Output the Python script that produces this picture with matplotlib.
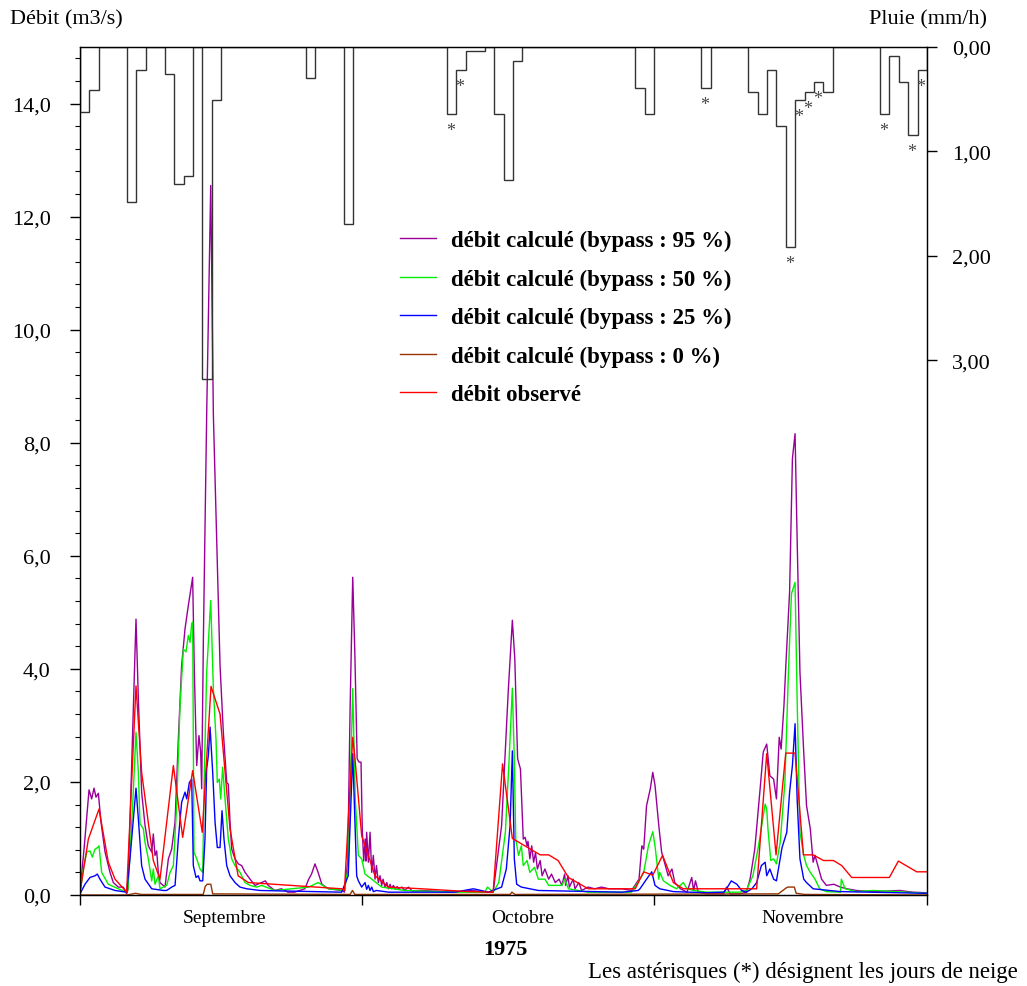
import numpy as np
import matplotlib
matplotlib.use("Agg")
import matplotlib.pyplot as plt
from matplotlib.lines import Line2D
from matplotlib.ticker import FixedLocator, FuncFormatter

plt.rcParams['font.family'] = ['Liberation Serif', 'DejaVu Serif']

# ---------------- data (days since 1 Sept 1975) ----------------
# daily rainfall intensity (mm/h), 1 Sept .. 29 Nov
rain_mm = [0.62, 0.41, 0, 0, 0, 1.48, 0.22, 0, 0, 0.26,
           1.31, 1.23, 0, 3.18, 0.51, 0, 0, 0, 0, 0,
           0, 0, 0, 0, 0.30, 0, 0, 0, 1.69, 0,
           0, 0, 0, 0, 0, 0, 0, 0, 0, 0.645,
           0.22, 0.04, 0.04, 0, 0.645, 1.27, 0.13, 0, 0, 0,
           0, 0, 0, 0, 0, 0, 0, 0, 0, 0.39,
           0.645, 0, 0, 0, 0, 0, 0.39, 0, 0, 0,
           0, 0.43, 0.645, 0.22, 0.76, 1.91, 0.51, 0.435, 0.335, 0.43,
           0, 0, 0, 0, 0, 0.645, 0.09, 0.335, 0.84, 0.22]
snow_days = [39, 40, 66, 75, 76, 77, 78, 85, 88, 89]

q95_t = [0.0, 0.46, 0.96, 1.24, 1.49, 1.70, 1.95, 2.23, 2.66, 3.19, 3.54, 4.07, 4.6, 4.96,
         5.1, 5.6, 5.95, 6.2, 6.55, 6.91, 7.26, 7.62, 7.79, 7.97, 8.15, 8.32, 8.5,
         9.03, 9.39, 9.74, 10.1, 10.45, 10.8, 11.16, 11.51, 11.97, 12.15, 12.4, 12.64, 12.82, 12.93,
         13.11, 13.46, 13.89, 14.17, 14.52, 14.88, 15.23, 15.59, 15.76, 15.94, 16.12, 16.47, 16.83,
         17.18, 17.54, 18.07, 18.6, 19.3, 19.7, 20.0, 20.7, 21.4, 22.1, 22.8, 23.9, 24.3, 24.6,
         24.97, 25.3, 25.7, 26.4, 27.8, 28.1, 28.45, 28.7, 28.98, 29.2, 29.45, 29.65, 29.86, 30.0,
         30.15, 30.3, 30.38, 30.46, 30.64, 30.82, 31.0, 31.17, 31.35, 31.5, 31.7, 31.88, 32.06,
         32.2, 32.4, 32.6, 32.77, 32.95, 33.1, 33.3, 33.5, 33.7, 33.8, 34.2, 34.5, 34.9, 35.3,
         36.3, 39.8, 41.6, 43.4, 43.9, 44.8, 45.5, 45.94, 46.2, 46.5, 46.8, 47.1, 47.3,
         47.5, 47.6, 47.8, 48.0, 48.2, 48.4, 48.6, 48.9, 49.1, 49.4, 49.8, 50.1, 50.5, 50.9,
         51.2, 51.5, 51.6, 51.85, 52.0, 52.4, 52.6, 53.0, 53.3, 54.0, 54.7, 55.4, 56.2, 57.6,
         58.6, 59.4, 59.7, 59.9, 60.2, 60.6, 60.86, 61.1, 61.5, 61.8, 62.2, 62.5, 62.9, 63.2, 63.8,
         64.5, 65.0, 65.2, 65.4, 65.7, 66.6, 68.4, 68.7, 69.1, 70.1, 70.8, 71.2, 71.7, 72.3,
         72.6, 72.97, 73.3, 73.7, 74.0, 74.3, 74.5, 74.8, 75.0, 75.4, 75.7, 75.98, 76.2, 76.5,
         76.9, 77.2, 77.6, 77.9, 78.1, 78.5, 78.8, 79.3, 80.1, 80.8, 81.5, 82.5, 84.3, 87.1,
         88.5, 89.9]
q95_v = [0.05, 0.87, 1.86, 1.70, 1.89, 1.73, 1.80, 1.29, 0.76, 0.40, 0.22, 0.14, 0.14, 0.02,
         0.10, 2.9, 4.88, 3.47, 1.82, 1.23, 0.87, 0.76, 1.08, 0.70, 0.78, 0.40, 0.22,
         0.14, 0.64, 0.81, 1.29, 2.76, 4.06, 4.71, 5.12, 5.62, 3.94, 2.29, 2.82, 2.53, 1.88,
         4.53, 8.5, 12.55, 8.5, 6.3, 4.06, 2.88, 1.99, 1.96, 1.29, 0.81, 0.64, 0.55,
         0.52, 0.40, 0.28, 0.17, 0.22, 0.25, 0.17, 0.08, 0.11, 0.05, 0.05, 0.11, 0.28, 0.37,
         0.55, 0.40, 0.19, 0.11, 0.08, 0.05, 0.6, 3.3, 5.62, 4.3, 2.41, 2.35, 2.35, 1.11,
         0.6, 0.99, 0.6, 1.11, 0.58, 1.11, 0.40, 0.70, 0.28, 0.52, 0.22, 0.34, 0.17,
         0.28, 0.14, 0.22, 0.11, 0.19, 0.11, 0.17, 0.11, 0.15, 0.11, 0.14, 0.08, 0.14, 0.07,
         0.08, 0.05, 0.08, 0.05, 0.05, 1.23, 3.59, 4.86, 4.18, 2.41, 2.23, 0.99, 1.02,
         0.87, 0.95, 0.64, 0.87, 0.58, 0.75, 0.46, 0.61, 0.34, 0.46, 0.28, 0.37, 0.22, 0.28,
         0.17, 0.37, 0.17, 0.34, 0.14, 0.28, 0.11, 0.22, 0.08, 0.14, 0.11, 0.14, 0.11, 0.11,
         0.08, 0.28, 0.87, 0.81, 1.58, 1.88, 2.17, 1.94, 1.23, 0.76, 0.52, 0.34, 0.46, 0.22, 0.11,
         0.05, 0.31, 0.08, 0.25, 0.05, 0.02, 0.02, 0.14, 0.02, 0.02, 0.05, 0.28, 0.81, 1.94,
         2.53, 2.67, 2.11, 2.05, 1.70, 2.79, 2.58, 3.35, 4.06, 5.36, 7.72, 8.16, 6.30, 3.94,
         2.53, 1.58, 1.17, 0.58, 0.70, 0.46, 0.28, 0.17, 0.19, 0.14, 0.11, 0.08, 0.06, 0.08,
         0.05, 0.04]

q50_t = [0.0, 0.35, 0.71, 1.06, 1.31, 1.59, 1.88, 2.02, 2.3, 3.01, 4.07, 4.96,
         5.1, 5.6, 5.95, 6.2, 6.38, 6.73, 6.91, 7.26, 7.62, 7.79, 7.97, 8.32, 8.5,
         9.21, 9.57, 9.92, 10.27, 10.63, 10.98, 11.26, 11.51, 11.69, 11.87, 11.97, 12.11, 12.4,
         12.75, 13.04, 13.21, 13.46, 13.89, 14.17, 14.45, 14.59, 14.8, 14.95, 15.16, 15.41,
         15.76, 16.12, 16.47, 17.0, 17.54, 18.07, 18.77, 19.3, 20.7, 24.3, 25.3, 26.4, 28.1,
         28.5, 28.98, 29.25, 29.58, 29.93, 30.29, 31.0, 32.06, 34.5, 39.8, 43.0, 43.3, 43.9,
         44.5, 45.2, 45.6, 45.94, 46.15, 46.3, 46.6, 46.9, 47.1, 47.5, 47.8, 48.3, 48.7, 49.4,
         49.8, 51.2, 51.5, 51.9, 54.0, 58.6, 59.5, 59.9, 60.4, 60.86, 61.1, 61.5, 61.6, 62.0,
         62.7, 63.4, 64.1, 64.5, 65.2, 66.6, 70.1, 70.8, 71.5, 72.1, 72.6, 72.8, 72.97, 73.1,
         73.4, 73.7, 74.0, 74.4, 74.9, 75.3, 75.6, 75.98, 76.2, 76.5, 76.9, 77.2, 77.6, 78.1,
         78.6, 79.3, 80.8, 80.9, 81.3, 82.5, 84.3, 87.8, 89.9]
q50_v = [0.02, 0.46, 0.76, 0.78, 0.67, 0.81, 0.84, 0.87, 0.40, 0.19, 0.11, 0.05,
         0.10, 1.6, 2.88, 2.17, 1.26, 1.17, 0.93, 0.64, 0.25, 0.46, 0.19, 0.34, 0.11,
         0.17, 0.40, 0.52, 1.58, 3.35, 4.35, 4.30, 4.59, 4.47, 4.80, 4.83, 0.76, 0.64,
         0.46, 0.40, 2.17, 3.94, 5.21, 3.65, 2.76, 1.99, 2.05, 1.70, 2.26, 1.70,
         0.99, 0.64, 0.52, 0.40, 0.22, 0.17, 0.14, 0.17, 0.08, 0.14, 0.22, 0.11, 0.08,
         0.5, 3.65, 1.7, 0.70, 0.64, 0.37, 0.28, 0.14, 0.08, 0.05, 0.05, 0.14, 0.05,
         0.22, 1.11, 2.41, 3.66, 2.41, 0.99, 0.70, 0.87, 0.52, 0.61, 0.40, 0.49, 0.28, 0.28,
         0.17, 0.17, 0.28, 0.11, 0.05, 0.05, 0.28, 0.40, 0.87, 1.12, 0.87, 0.28, 0.40, 0.25,
         0.17, 0.11, 0.22, 0.11, 0.08, 0.05, 0.05, 0.08, 0.34, 0.87, 1.40, 1.61, 1.52, 1.17,
         0.61, 0.64, 0.55, 0.93, 1.99, 4.06, 5.33, 5.53, 3.47, 1.11, 0.70, 0.52, 0.40, 0.28,
         0.11, 0.06, 0.05, 0.28, 0.11, 0.06, 0.08, 0.05, 0.03]

q25_t = [0.0, 0.53, 1.06, 1.59, 1.84, 2.12, 2.66, 3.72, 4.96, 5.31, 5.95, 6.2, 6.55, 6.91,
         7.62, 8.86, 9.21, 9.74, 10.1, 10.45, 10.8, 11.16, 11.34, 11.62, 11.87, 12.04, 12.33,
         12.57, 12.75, 13.04, 13.28, 13.46, 13.64, 13.82, 14.1, 14.35, 14.59, 14.88, 15.09,
         15.3, 15.59, 15.94, 16.47, 17.0, 17.71, 19.13, 27.8, 28.5, 28.98, 29.4, 29.58, 29.93,
         30.29, 30.46, 30.64, 30.82, 31.0, 31.17, 31.5, 32.8, 39.8, 41.8, 43.4, 44.8, 45.3,
         45.7, 45.94, 46.15, 46.4, 46.9, 48.7, 57.6, 59.3, 59.5, 60.2, 60.75, 61.1, 61.6, 63.05,
         66.6, 68.4, 68.7, 69.2, 69.8, 70.3, 70.8, 71.4, 71.9, 72.4, 72.8, 72.97, 73.3, 73.7,
         74.0, 74.6, 75.1, 75.4, 75.7, 75.98, 76.2, 76.5, 76.9, 77.2, 77.9, 80.8, 89.9]
q25_v = [0.02, 0.19, 0.31, 0.34, 0.37, 0.28, 0.14, 0.08, 0.05, 0.64, 1.89, 1.35, 0.52, 0.28,
         0.11, 0.08, 0.08, 0.14, 0.17, 0.99, 1.64, 1.82, 1.70, 1.99, 2.05, 0.52, 0.31,
         0.34, 0.25, 0.25, 0.99, 2.23, 2.47, 2.97, 2.17, 1.29, 0.84, 0.84, 1.49,
         0.99, 0.52, 0.34, 0.22, 0.14, 0.11, 0.08, 0.05, 0.34, 2.50, 0.34, 0.25, 0.14,
         0.22, 0.10, 0.17, 0.08, 0.14, 0.06, 0.08, 0.05, 0.05, 0.11, 0.05, 0.14, 0.46,
         1.23, 2.55, 0.64, 0.19, 0.14, 0.08, 0.05, 0.08, 0.11, 0.28, 0.41, 0.17, 0.11, 0.06,
         0.04, 0.05, 0.11, 0.25, 0.19, 0.08, 0.05, 0.11, 0.22, 0.52, 0.58, 0.34, 0.46, 0.28,
         0.25, 0.84, 1.11, 1.82, 2.29, 3.03, 1.70, 0.64, 0.28, 0.22, 0.11, 0.06, 0.03]

q0_t = [0.0, 5.0, 5.9, 6.5, 13.1, 13.3, 13.5, 13.9, 14.1, 28.7, 28.95, 29.2, 45.7, 45.9,
        46.2, 74.2, 75.0, 75.2, 75.9, 76.1, 77.0, 90.0]
q0_v = [0.0, 0.0, 0.03, 0.01, 0.01, 0.15, 0.19, 0.19, 0.02, 0.01, 0.08, 0.01, 0.01, 0.05,
        0.01, 0.02, 0.12, 0.14, 0.14, 0.03, 0.01, 0.0]

obs_t = [0.0, 0.89, 2.02, 3.01, 3.72, 4.96, 5.95, 6.55, 7.79, 8.5, 9.92, 10.91, 11.97,
         12.99, 13.92, 14.88, 15.94, 16.8, 17.9, 27.8, 28.1, 28.98, 29.22, 29.93, 31.35,
         32.77, 36.3, 41.3, 43.9, 44.9, 45.94, 48.9, 49.8, 50.8, 51.9, 54.0, 59.0, 59.5,
         59.9, 60.86, 61.9, 63.05, 64.1, 71.9, 72.97, 73.96, 74.99, 75.98, 76.87, 77.9,
         79.0, 80.06, 80.94, 82.0, 86.0, 86.96, 88.9, 90.0]
obs_v = [0.05, 0.99, 1.52, 0.58, 0.28, 0.05, 3.70, 2.17, 0.61, 0.28, 2.29, 1.02, 2.20,
         1.11, 3.69, 3.20, 1.17, 0.34, 0.22, 0.11, 0.08, 2.79, 2.41, 1.05, 0.34,
         0.14, 0.11, 0.06, 0.05, 2.32, 1.00, 0.71, 0.71, 0.61, 0.31, 0.11, 0.11, 0.28,
         0.41, 0.35, 0.70, 0.22, 0.11, 0.11, 2.50, 0.71, 2.51, 2.51, 0.71, 0.71,
         0.61, 0.61, 0.52, 0.31, 0.31, 0.60, 0.41, 0.41]

series = [
    ("débit calculé (bypass : 95 %)", q95_t, q95_v, "#990099"),
    ("débit calculé (bypass : 50 %)", q50_t, q50_v, "#00ee00"),
    ("débit calculé (bypass : 25 %)", q25_t, q25_v, "#0000ff"),
    ("débit calculé (bypass : 0 %)", q0_t, q0_v, "#993300"),
    ("débit observé", obs_t, obs_v, "#ff0000"),
]
month_bounds = [0, 30, 61, 90]
month_names = ["Septembre", "Octobre", "Novembre"]
month_label_pos = [15.4, 47.0, 76.8]

# ---------------- figure ----------------
W, H = 1027, 987
fig = plt.figure(figsize=(W / 100, H / 100), dpi=100)
ax = fig.add_axes([80 / W, (H - 896) / H, 847 / W, 848 / H])
ax.set_xlim(0, 90)
ax.set_ylim(0, 15)

for label, t, v, c in series:
    ax.plot(t, v, color=c, lw=1.0, label=label)

ax.yaxis.set_major_locator(FixedLocator(np.arange(0, 15, 2)))
ax.yaxis.set_minor_locator(FixedLocator(np.arange(0, 15.01, 0.4)))
ax.yaxis.set_major_formatter(FuncFormatter(lambda v, p: f"{v:.1f}".replace('.', ',')))
ax.tick_params(axis='y', which='major', direction='out', length=7, width=1, pad=14, labelsize=16)
ax.tick_params(axis='y', which='minor', direction='out', length=3.5, width=0.8)

ax.set_xticks(month_bounds)
ax.set_xticklabels([])
ax.set_xticks(month_label_pos, minor=True)
ax.set_xticklabels(month_names, minor=True)
ax.tick_params(axis='x', which='major', direction='out', length=7, width=1)
ax.tick_params(axis='x', which='minor', length=0, pad=10, labelsize=14)

for s in ax.spines.values():
    s.set_linewidth(1.0)
    s.set_color('#222222')

# rainfall on inverted right axis
ax2 = ax.twinx()
ax2.set_ylim(8.115, 0)
ax2.stairs(rain_mm, np.arange(len(rain_mm) + 1), baseline=0, color='#333333', lw=1.0)
ax2.yaxis.set_major_locator(FixedLocator([0, 1, 2, 3]))
ax2.yaxis.set_major_formatter(FuncFormatter(lambda v, p: f"{v:.2f}".replace('.', ',')))
ax2.tick_params(axis='y', which='major', direction='out', length=7, width=1, pad=11, labelsize=16)
for d in snow_days:
    ax2.annotate('*', xy=(d + 0.35, rain_mm[d]), xytext=(0, -21), textcoords='offset pixels',
                 ha='center', va='baseline', fontsize=13, color='#444444')

# legend
handles = [Line2D([0], [0], color=c, lw=1.0) for _, _, _, c in series]
labels = [s[0] for s in series]
leg = fig.legend(handles, labels, loc='upper left', bbox_to_anchor=(400 / W, 1 - 231 / H),
                 frameon=False, prop={'weight': 'bold', 'size': 16.5}, handlelength=1.55,
                 handletextpad=0.68, labelspacing=0.76, borderpad=0, borderaxespad=0)

fig.text(10 / W, 1 - 20 / H, "Débit (m3/s)", ha='left', va='center', fontsize=16)
fig.text(987 / W, 1 - 20 / H, "Pluie (mm/h)", ha='right', va='center', fontsize=16)
fig.text(505 / W, 1 - 950 / H, "1975", ha='center', va='center', fontsize=16, weight='bold')
fig.text(1018 / W, 1 - 972 / H, "Les astérisques (*) désignent les jours de neige",
         ha='right', va='center', fontsize=16.4)

fig.savefig("out.png", dpi=100)
